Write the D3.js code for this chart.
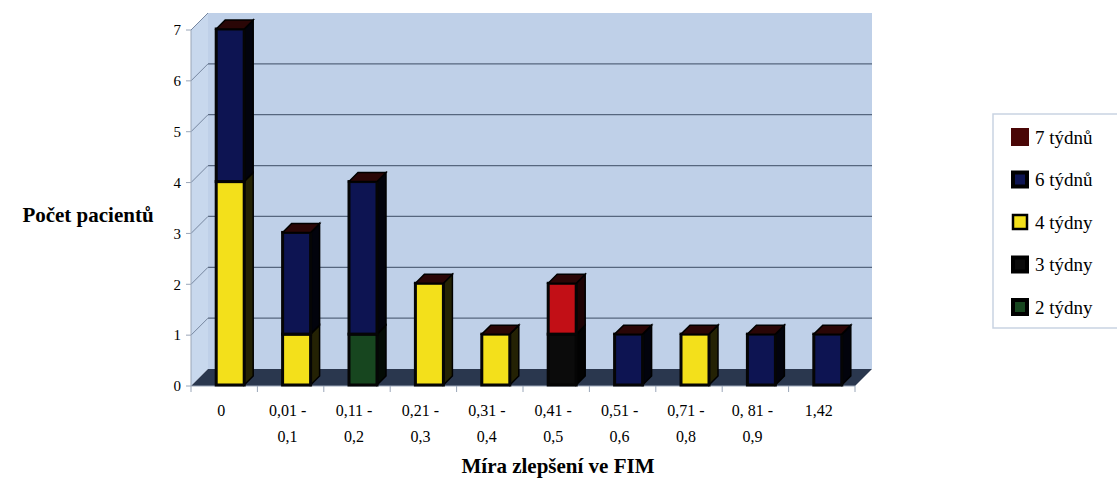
<!DOCTYPE html>
<html>
<head>
<meta charset="utf-8">
<script src="https://cdn.jsdelivr.net/npm/d3@7"></script>
<style>
  body { margin: 0; background: #fff; }
  svg { display: block; font-family: 'Liberation Serif', 'Times New Roman', serif; }
</style>
</head>
<body>
<svg id="chart" width="1117" height="483"></svg>
<script>
// categories on the x axis (two-line labels)
const categories = ['0', '0,01 - 0,1', '0,11 - 0,2', '0,21 - 0,3', '0,31 - 0,4',
  '0,41 - 0,5', '0,51 - 0,6', '0,71 - 0,8', '0, 81 - 0,9', '1,42']
const categoryLines = [['0'], ['0,01 -', '0,1'], ['0,11 -', '0,2'], ['0,21 -', '0,3'],
  ['0,31 -', '0,4'], ['0,41 -', '0,5'], ['0,51 -', '0,6'], ['0,71 -', '0,8'],
  ['0, 81 -', '0,9'], ['1,42']]

// series, stacked from bottom to top
const seriesNames = ['2 týdny', '3 týdny', '4 týdny', '6 týdnů', '7 týdnů']
const seriesColors = ['#17461f', '#0b0b0b', '#f3e01b', '#0d1452', '#c20f16']
const week2 = [0, 0, 1, 0, 0, 0, 0, 0, 0, 0]
const week3 = [0, 0, 0, 0, 0, 1, 0, 0, 0, 0]
const week4 = [4, 1, 0, 2, 1, 0, 0, 1, 0, 0]
const week6 = [3, 2, 3, 0, 0, 0, 1, 0, 1, 1]
const week7 = [0, 0, 0, 0, 0, 1, 0, 0, 0, 0]
const seriesValues = [week2, week3, week4, week6, week7]

const yTicks = [0, 1, 2, 3, 4, 5, 6, 7]
const yTitle = 'Počet pacientů'
const xTitle = 'Míra zlepšení ve FIM'

const svg = d3.select('#chart')

// 3d geometry of the walls
const depth = { dx: 17, dy: -17 }
const barDepth = { dx: 9, dy: -9 }

const x = d3.scaleBand()
  .domain(categories)
  .range([191, 855])

const y = d3.scaleLinear()
  .domain([0, 7])
  .range([386, 30])

const rows = categories.map((c, i) => {
  const row = { name: c }
  seriesNames.forEach((s, k) => { row[s] = seriesValues[k][i] })
  return row
})

const stacked = d3.stack().keys(seriesNames)(rows)
const color = d3.scaleOrdinal().domain(seriesNames).range(seriesColors)

const poly = (pts) => 'M' + pts.map((p) => p.join(',')).join('L') + 'Z'

const x0 = x.range()[0]
const x1 = x.range()[1]

// back wall
svg.append('rect')
  .attr('x', x0 + depth.dx)
  .attr('y', y(7) + depth.dy)
  .attr('width', x1 - x0)
  .attr('height', y(0) - y(7))
  .attr('fill', '#bfd0e8')

// left wall
svg.append('path')
  .attr('d', poly([[x0, y(0)], [x0 + depth.dx, y(0) + depth.dy],
    [x0 + depth.dx, y(7) + depth.dy], [x0, y(7)]]))
  .attr('fill', '#c8d8ed')

// gridlines on back wall and left wall
const grid = svg.append('g').attr('class', 'grid')
grid.selectAll('line.back')
  .data(yTicks.filter((d) => d > 0 && d < 7))
  .enter()
  .append('line')
  .attr('class', 'back')
  .attr('x1', x0 + depth.dx)
  .attr('x2', x1 + depth.dx)
  .attr('y1', (d) => y(d) + depth.dy)
  .attr('y2', (d) => y(d) + depth.dy)
  .attr('stroke', '#56667e')
  .attr('stroke-width', 1.2)
grid.selectAll('line.side')
  .data(yTicks.filter((d) => d > 0))
  .enter()
  .append('line')
  .attr('class', 'side')
  .attr('x1', x0)
  .attr('x2', x0 + depth.dx)
  .attr('y1', (d) => y(d))
  .attr('y2', (d) => y(d) + depth.dy)
  .attr('stroke', '#7787a0')
  .attr('stroke-width', 1)

// floor
svg.append('path')
  .attr('d', poly([[x0, y(0)], [x1, y(0)], [x1 + depth.dx, y(0) + depth.dy],
    [x0 + depth.dx, y(0) + depth.dy]]))
  .attr('fill', '#2a374e')

// axes
svg.append('line')
  .attr('x1', x0).attr('x2', x0)
  .attr('y1', y(0)).attr('y2', y(7))
  .attr('stroke', '#9aa6b8')
svg.append('line')
  .attr('x1', x0).attr('x2', x1)
  .attr('y1', y(0)).attr('y2', y(0))
  .attr('stroke', '#9aa6b8')

svg.append('g')
  .selectAll('line')
  .data(d3.range(categories.length + 1))
  .enter()
  .append('line')
  .attr('x1', (i) => x0 + i * x.bandwidth())
  .attr('x2', (i) => x0 + i * x.bandwidth())
  .attr('y1', y(0))
  .attr('y2', y(0) + 6)
  .attr('stroke', '#9aa6b8')

const yAxis = svg.append('g')
yAxis.selectAll('line')
  .data(yTicks)
  .enter()
  .append('line')
  .attr('x1', x0 - 5)
  .attr('x2', x0)
  .attr('y1', (d) => y(d))
  .attr('y2', (d) => y(d))
  .attr('stroke', '#9aa6b8')
yAxis.selectAll('text')
  .data(yTicks)
  .enter()
  .append('text')
  .attr('x', x0 - 10)
  .attr('y', (d) => y(d))
  .attr('dy', '0.35em')
  .attr('text-anchor', 'end')
  .style('font-size', '15px')
  .text((d) => d)

// category labels
const xLabels = svg.append('g')
  .selectAll('text')
  .data(categories)
  .enter()
  .append('text')
  .attr('x', (d) => x(d) + x.bandwidth() / 2 - 3)
  .attr('y', 416)
  .attr('text-anchor', 'middle')
  .style('font-size', '16px')
xLabels.selectAll('tspan')
  .data((d, i) => categoryLines[i])
  .enter()
  .append('tspan')
  .attr('x', function () { return d3.select(this.parentNode).attr('x') })
  .attr('dy', (d, i) => (i === 0 ? 0 : 26))
  .text((d) => d)

// stacked 3d bars
const barW = 28
const barX = (name) => x(name) + x.bandwidth() / 2 + 6 - barW / 2

const bars = svg.append('g').attr('class', 'bars')
stacked.forEach((layer) => {
  const c = color(layer.key)
  const side = d3.interpolateRgb(c, '#000')(0.85)
  layer.forEach((d) => {
    if (d[1] - d[0] <= 0) return
    const bx = barX(d.data.name)
    const yt = y(d[1]) - 1
    const yb = y(d[0]) - 1
    const g = bars.append('g')
    // right side face
    g.append('path')
      .attr('d', poly([[bx + barW, yb], [bx + barW + barDepth.dx, yb + barDepth.dy],
        [bx + barW + barDepth.dx, yt + barDepth.dy], [bx + barW, yt]]))
      .attr('fill', side)
      .attr('stroke', '#000')
      .attr('stroke-width', 1.5)
    // front face
    g.append('rect')
      .attr('x', bx)
      .attr('y', yt)
      .attr('width', barW)
      .attr('height', yb - yt)
      .attr('fill', c)
      .attr('stroke', '#050505')
      .attr('stroke-width', 3)
  })
})

// bar tops
rows.forEach((r, i) => {
  const total = d3.sum(seriesValues, (s) => s[i])
  const bx = barX(r.name)
  const yt = y(total) - 1
  bars.append('path')
    .attr('d', poly([[bx, yt], [bx + barDepth.dx, yt + barDepth.dy],
      [bx + barW + barDepth.dx, yt + barDepth.dy], [bx + barW, yt]]))
    .attr('fill', '#2a0606')
    .attr('stroke', '#000')
    .attr('stroke-width', 1.5)
})

// axis titles
svg.append('text')
  .attr('x', 88)
  .attr('y', 222)
  .attr('text-anchor', 'middle')
  .style('font-size', '21px')
  .style('font-weight', 'bold')
  .text(yTitle)

svg.append('text')
  .attr('x', 558)
  .attr('y', 473)
  .attr('text-anchor', 'middle')
  .style('font-size', '21px')
  .style('font-weight', 'bold')
  .text(xTitle)

// legend, listed top to bottom in reverse stacking order
const legend = svg.append('g').attr('class', 'legend')
legend.append('rect')
  .attr('x', 993)
  .attr('y', 114)
  .attr('width', 140)
  .attr('height', 214)
  .attr('fill', '#fff')
  .attr('stroke', '#c9d3e2')
  .attr('stroke-width', 1.5)

const legendItems = legend.selectAll('g.item')
  .data(seriesNames.slice().reverse())
  .enter()
  .append('g')
  .attr('class', 'item')
  .attr('transform', (d, i) => `translate(1013, ${137 + i * 42.5})`)
legendItems.append('rect')
  .attr('x', 0)
  .attr('y', -7)
  .attr('width', 14)
  .attr('height', 14)
  .attr('fill', (d) => (d === '7 týdnů' ? '#4a0606' : color(d)))
  .attr('stroke', (d) => (d === '7 týdnů' ? '#4a0606' : '#000'))
  .attr('stroke-width', (d) => (d === '4 týdny' ? 2.5 : 4))
legendItems.append('text')
  .attr('x', 22)
  .attr('y', 0)
  .attr('dy', '0.35em')
  .style('font-size', '19px')
  .text((d) => d)
</script>
</body>
</html>
